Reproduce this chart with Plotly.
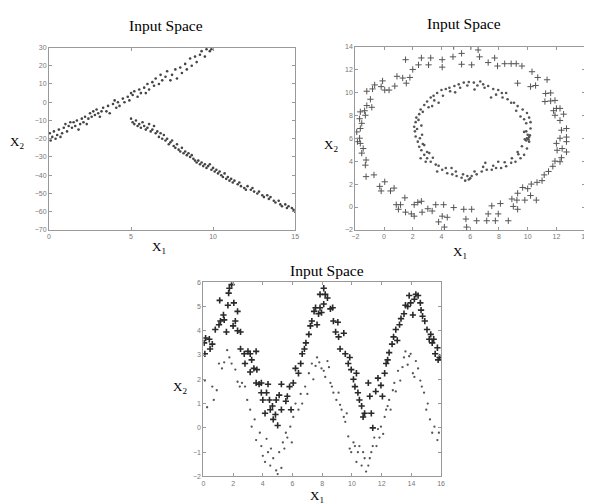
import plotly.graph_objects as go

# ---------- Panel 1: two lines ----------
p1_up_x = [0.05,0.1,0.2,0.3,0.4,0.5,0.6,0.7,0.8,0.9,1.0,1.1,1.2,1.3,1.4,1.5,1.6,1.7,1.8,1.9,2.0,2.1,2.2,2.3,2.4,2.5,2.6,2.7,2.8,2.9,3.0,3.1,3.2,3.3,3.5,3.6,3.7,3.9,4.0,4.1,4.2,4.3,4.5,4.6,4.8,4.9,5.0,5.1,5.2,5.4,5.5,5.6,5.8,5.9,6.0,6.1,6.3,6.4,6.5,6.7,6.8,6.9,7.1,7.2,7.4,7.5,7.7,7.8,8.0,8.1,8.3,8.4,8.6,8.7,8.9,9.0,9.2,9.3,9.5,9.6,9.8,9.9]
p1_up_y = [-17,-21,-19,-16,-20,-18,-15,-19,-17,-14,-12,-16,-13,-11,-14,-11,-13,-10,-15,-12,-9,-11,-8,-12,-9,-6,-8,-5,-7,-4,-6,-8,-5,-3,-5,-2,-6,-1,1,-3,0,-2,2,0,3,1,5,4,6,3,7,5,8,5,10,7,11,9,13,10,15,12,14,17,12,15,18,13,19,16,21,18,24,20,25,22,26,28,25,29,28,29]
p1_lo_x = [5.0,5.1,5.2,5.3,5.4,5.5,5.6,5.7,5.8,5.9,6.0,6.1,6.2,6.3,6.4,6.5,6.6,6.7,6.8,6.9,7.0,7.1,7.2,7.3,7.4,7.5,7.6,7.7,7.8,7.9,8.0,8.1,8.2,8.3,8.4,8.5,8.6,8.7,8.8,8.9,9.0,9.1,9.2,9.3,9.4,9.5,9.6,9.7,9.8,9.9,10.0,10.1,10.2,10.3,10.4,10.5,10.6,10.7,10.8,10.9,11.0,11.1,11.2,11.3,11.5,11.6,11.7,11.9,12.0,12.1,12.3,12.4,12.5,12.7,12.8,13.0,13.1,13.3,13.4,13.5,13.7,13.8,14.0,14.1,14.2,14.4,14.5,14.6,14.8,14.9,15.0]
p1_lo_y = [-9,-11,-12,-10,-13,-12,-14,-11,-13,-15,-14,-12,-16,-15,-13,-17,-16,-19,-17,-20,-18,-21,-20,-23,-22,-21,-24,-25,-23,-26,-27,-25,-28,-27,-29,-28,-30,-29,-31,-32,-33,-32,-34,-33,-35,-34,-36,-35,-34,-37,-36,-38,-37,-39,-38,-40,-41,-39,-42,-41,-43,-42,-44,-43,-45,-44,-46,-47,-48,-46,-48,-47,-49,-50,-49,-51,-52,-51,-53,-52,-54,-55,-54,-56,-57,-56,-58,-57,-58,-59,-60]

# ---------- Panel 2: two rings ----------
p2_out_x = [4.85,6.05,6.55,5.4,4.8,4.05,3.25,2.6,1.5,2.4,3.1,4.05,5.4,6.1,6.65,7.25,7.7,7.9,8.4,8.85,9.2,9.6,10.3,10.7,11.35,9.3,10.2,10.55,11.25,11.6,11.9,11.6,11.2,12.0,12.25,11.8,12.5,11.9,12.25,12.7,12.35,12.7,12.25,12.0,12.7,12.4,12.05,12.7,12.35,11.9,11.75,12.25,11.45,11.15,11.0,10.65,10.25,10.0,9.65,9.3,10.2,10.6,9.8,9.25,9.0,8.9,8.1,7.5,7.25,7.95,9.3,8.65,7.75,7.15,6.45,5.7,5.75,6.1,5.55,4.85,4.15,3.6,3.05,2.65,3.35,3.8,4.2,4.4,4.05,2.1,1.9,1.5,2.35,2.6,2.1,1.45,1.15,0.85,1.0,0.45,0.7,0.05,-0.2,-0.3,-0.7,-1.25,-1.3,-1.25,-1.55,-1.45,-1.65,-1.7,-1.85,-1.9,-1.65,-1.55,-1.7,-1.3,-1.35,-1.65,-1.2,-0.85,-0.95,-1.2,-0.8,-0.65,-0.1,-0.2,0.35,0.75,0.9,1.3,1.55,1.8,2.0,0.05]
p2_out_y = [14,14,13.7,13.4,13.1,12.85,13,13,12.85,12.4,12.4,12.2,12.45,12.4,13.1,12.6,13,12.3,12.5,12.5,12.5,12.3,11.8,11.3,11.1,10.8,10.5,10.6,9.9,9.95,9.3,9.25,9.2,8.6,8.6,8.4,8.1,8.0,7.55,6.85,6.7,6.1,6.0,5.55,5.7,5.1,4.95,4.8,4.3,4.0,3.55,3.95,3.1,2.8,2.3,2.15,2.0,1.6,1.7,1.2,1.0,0.6,0.6,0.6,0.05,0.7,0.3,0.1,-0.6,-0.6,-0.2,-1.2,-1.2,-1.2,-1.2,-1.05,-1.75,-0.2,-0.2,-0.05,0.2,0.2,-0.15,-0.45,-0.35,-1.3,-1.75,-0.9,-0.8,-0.8,-0.6,-0.45,0.4,0.5,0.2,0.8,0.2,0.2,-0.2,1.4,1.65,2.2,1.4,1.8,2.8,2.65,3.65,4.1,4.7,5.1,5.55,6.0,5.7,6.55,6.85,7.3,7.7,8.0,8.4,8.3,8.85,8.7,9.4,10.1,10.3,10.65,11.0,10.5,10.2,10.55,11.4,11.25,10.8,11.3,12.0,10.2]
p2_in_x = [2.1,2.2,2.25,2.45,2.55,2.8,3.0,3.25,3.45,3.7,4.0,4.3,4.55,4.9,5.2,5.55,5.9,6.25,6.7,6.9,7.25,7.6,7.95,8.2,8.5,8.25,9.05,9.3,9.65,9.95,10.1,10.2,10.2,10.15,9.95,10.1,9.95,9.75,9.5,9.15,8.85,8.5,8.15,7.8,7.5,7.15,6.8,6.45,6.1,5.9,5.65,5.4,5.05,4.75,4.4,4.05,3.7,3.6,3.25,3.0,2.8,2.6,2.45,2.35,2.2,2.15,2.65,2.9,3.8,3.35,4.95,6.3,7.45,8.85,9.75,9.75,9.3,7.95,7.05,4.7,3.15,2.8,2.55,
           2.3,2.4,2.7,3.1,3.5,4.1,4.6,5.3,5.8,6.5,7.0,7.8,8.6,9.2,9.5,9.9,9.9,9.8,9.6,9.35,8.9,8.4,7.6,6.9,6.3,5.5,5.0,4.3,3.8,3.4,3.0,2.7,2.5,2.6,10.1,10.05,9.9,10.0,6.0,5.8]
p2_in_y = [7.0,7.4,7.8,8.1,8.5,8.9,9.2,9.55,9.7,9.95,10.2,10.3,10.4,10.55,10.7,10.85,10.9,10.85,10.95,10.7,10.55,10.3,10.2,9.95,9.95,9.55,9.1,8.8,8.5,8.2,7.8,7.4,6.85,6.25,6.0,5.7,5.1,4.55,4.25,3.95,3.85,3.55,3.4,3.4,3.25,3.25,3.1,2.85,2.7,2.4,2.3,2.55,2.7,2.85,2.95,3.25,3.1,3.7,3.95,4.25,4.55,4.95,5.25,5.7,6.15,6.6,6.3,3.95,9.1,8.8,10.0,10.25,9.55,9.1,7.65,6.55,4.8,3.95,3.85,3.4,4.7,5.4,4.25,
           6.8,7.6,8.3,8.7,9.3,9.7,10.1,10.4,10.6,10.6,10.4,9.8,9.4,8.4,7.9,7.3,6.6,5.9,5.3,4.6,4.25,3.9,3.6,3.5,3.1,2.85,3.1,3.4,3.6,4.3,4.8,5.5,6.0,7.1,6.1,5.9,5.8,6.3,2.5,2.7]

# ---------- Panel 3: two waves ----------
p3_a_x = [0.05,0.15,0.1,0.4,0.6,0.45,0.8,1.05,1.15,1.1,1.4,1.35,1.65,1.55,1.7,1.75,1.9,2.0,2.05,2.15,2.3,2.3,2.5,2.5,2.75,3.0,3.15,2.8,3.15,3.25,3.4,3.55,3.6,3.55,3.75,3.9,3.9,4.0,4.25,4.35,4.45,4.5,4.15,4.65,4.7,4.85,5.0,4.9,5.1,5.25,5.25,5.55,5.65,5.8,5.9,6.05,6.2,6.4,6.55,6.65,6.8,6.9,7.1,7.2,7.3,7.45,7.55,7.65,7.75,7.85,7.95,8.1,7.85,8.1,8.2,8.35,8.55,8.7,8.75,8.9,9.05,9.1,9.2,9.45,9.55,9.75,9.85,9.95,10.1,10.2,10.3,10.4,10.5,10.65,10.75,10.85,11.1,11.2,11.3,11.4,11.6,11.75,11.95,12.05,12.2,12.3,12.4,12.5,12.7,12.8,12.95,13.05,13.2,13.3,13.5,13.6,13.75,13.85,13.95,14.1,14.2,14.3,14.45,14.6,14.65,14.75,14.9,15.05,15.2,15.3,15.4,15.5,15.6,15.75,15.8,15.9]
p3_a_y = [3.5,3.7,3.05,3.65,3.45,3.25,4.05,4.25,4.4,5.25,4.45,4.65,5.05,3.95,5.55,5.75,5.9,4.2,5.15,4.4,4.8,4.0,3.95,3.25,3.05,3.15,3.05,2.65,2.3,2.8,2.45,3.15,2.4,1.85,1.8,1.85,1.45,1.15,1.45,1.8,1.15,0.75,0.6,0.9,0.35,0.55,0.1,1.15,1.35,1.8,0.75,1.1,1.3,1.7,0.75,1.85,2.45,2.25,2.65,3.05,3.25,3.5,3.85,4.2,4.4,4.8,4.95,4.25,4.7,4.95,4.75,5.1,5.5,5.75,5.5,5.35,4.9,4.95,4.4,3.95,4.35,3.75,3.25,3.9,3.05,2.65,2.9,2.4,2.0,1.7,2.25,1.45,1.15,0.9,0.45,0.6,1.85,1.3,0.6,0.0,1.5,2.05,1.75,1.3,2.25,2.65,2.8,3.1,3.45,3.75,4.05,3.6,4.25,4.5,4.7,5.05,5.0,5.45,5.15,4.65,5.3,5.5,5.45,5.15,4.85,4.6,4.4,4.05,3.65,3.85,3.5,3.65,3.05,3.3,2.8,2.9]
p3_b_x = [0.1,0.25,0.6,0.7,0.9,1.05,1.25,1.4,1.6,1.75,1.9,2.15,2.3,2.45,2.6,2.8,2.95,3.15,3.25,3.45,3.55,3.8,3.9,4.0,4.15,4.25,4.35,4.5,4.55,4.7,4.9,5.0,5.1,5.25,5.35,5.45,5.55,5.65,5.85,5.95,6.05,6.2,6.4,6.55,6.65,6.85,7.0,7.1,7.3,7.4,7.55,7.65,7.8,7.95,8.1,8.2,8.35,8.45,8.55,8.65,8.75,8.95,9.1,9.2,9.3,9.45,9.55,9.65,9.75,9.85,9.95,10.1,10.2,10.3,10.4,10.5,10.65,10.75,10.85,10.95,11.1,11.2,11.3,11.4,11.5,11.65,11.75,11.85,11.95,12.1,12.2,12.3,12.4,12.5,12.6,12.75,12.85,12.95,13.1,13.25,13.4,13.5,13.6,13.75,13.85,13.95,14.1,14.2,14.3,14.45,14.6,14.7,14.85,15.0,15.1,15.25,15.4,15.55,15.75,15.85]
p3_b_y = [1.95,0.85,1.7,1.15,1.55,2.65,2.45,2.7,3.2,2.9,2.65,2.4,1.9,1.7,1.85,1.7,1.15,0.75,0.05,0.35,-0.5,-0.2,-0.75,-1.15,-1.4,-0.45,-1.0,-1.55,-0.85,-1.25,-1.75,-1.9,-1.0,-1.65,-0.6,-0.85,-0.2,-0.4,0.05,-0.6,0.45,1.0,0.75,1.4,1.0,1.7,1.4,2.25,2.65,2.0,2.55,2.9,2.7,2.45,2.35,2.1,2.75,2.5,1.85,1.7,1.45,1.15,1.45,0.95,0.75,0.45,0.25,0.6,-0.35,-0.85,-1.0,-0.6,-0.75,-1.4,-1.0,-0.75,-1.55,-1.0,-1.25,-1.8,-1.55,-1.25,-1.0,-0.75,-0.4,-0.75,-0.05,-0.4,0.05,-0.25,0.45,0.75,0.9,1.15,0.75,1.55,1.85,1.5,2.35,1.95,2.5,2.9,3.15,2.6,2.95,3.05,2.25,2.1,2.75,2.45,1.95,1.7,1.45,0.75,1.0,0.35,-0.2,0.05,-0.5,-0.2]

panel_titles = ["Input Space", "Input Space", "Input Space"]
x_label = "X<sub>1</sub>"
y_label = "X<sub>2</sub>"

dot = dict(color="#444", size=2.6)
plus = dict(symbol="cross-thin", size=4.5, color="#555", line=dict(width=1, color="#555"))
plus_bold = dict(symbol="cross-thin", size=4.5, color="#2a2a2a", line=dict(width=1.6, color="#2a2a2a"))
small_dot = dict(color="#555", size=2.3)
ring_dot = dict(color="#555", size=2.6)

fig = go.Figure()
fig.add_trace(go.Scatter(x=p1_up_x, y=p1_up_y, mode="markers", marker=dot, xaxis="x", yaxis="y"))
fig.add_trace(go.Scatter(x=p1_lo_x, y=p1_lo_y, mode="markers", marker=dot, xaxis="x", yaxis="y"))
fig.add_trace(go.Scatter(x=p2_out_x, y=p2_out_y, mode="markers", marker=plus, xaxis="x2", yaxis="y2"))
fig.add_trace(go.Scatter(x=p2_in_x, y=p2_in_y, mode="markers", marker=ring_dot, xaxis="x2", yaxis="y2"))
fig.add_trace(go.Scatter(x=p3_a_x, y=p3_a_y, mode="markers", marker=plus_bold, xaxis="x3", yaxis="y3"))
fig.add_trace(go.Scatter(x=p3_b_x, y=p3_b_y, mode="markers", marker=small_dot, xaxis="x3", yaxis="y3"))

W, H = 592, 504
OFF = 8  # page body margin: figure starts 8px in from the window corner
def px(v): return (v - OFF) / W
def py(v): return 1 - (v - OFF) / H

ax_common = dict(showgrid=False, zeroline=False, showline=True, linecolor="#999", linewidth=1,
                 mirror="ticks", ticks="inside", ticklen=3, tickcolor="#999",
                 tickfont=dict(family="Arial, Liberation Sans", size=7, color="#777"))

panels = [
    dict(x0=45.5, x1=295, y0=44, y1=229, xr=[0, 15], xd=5, yr=[-70, 30], yd=10),
    dict(x0=356, x1=589, y0=43, y1=229, xr=[-2, 14], xd=2, yr=[-2, 14], yd=2),
    dict(x0=202, x1=443, y0=282, y1=479, xr=[0, 16], xd=2, yr=[-2, 6], yd=1),
]
title_pos = [(164.5, 21.5), (466, 19.5), (327, 270.5)]
xlab_pos = [(157.5, 247), (462, 252), (317, 499)]
ylab_pos = [(13, 140), (331, 143), (178, 389)]

layout = dict(width=W, height=H, margin=dict(l=0, r=0, t=0, b=0), showlegend=False,
              plot_bgcolor="white", paper_bgcolor="white")
annotations = []
serif = dict(family="Liberation Serif", size=13, color="black")
for i, p in enumerate(panels):
    sx = "" if i == 0 else str(i + 1)
    layout["xaxis" + sx] = dict(ax_common, domain=[px(p["x0"]), px(p["x1"])], range=p["xr"], dtick=p["xd"],
                                anchor="y" + sx, tick0=p["xr"][0])
    layout["yaxis" + sx] = dict(ax_common, domain=[py(p["y1"]), py(p["y0"])], range=p["yr"], dtick=p["yd"],
                                anchor="x" + sx, tick0=p["yr"][0])
    annotations.append(dict(text=panel_titles[i], x=px(title_pos[i][0]), y=py(title_pos[i][1]),
                            xref="paper", yref="paper", xanchor="center", yanchor="middle", showarrow=False,
                            font=dict(family="Liberation Serif", size=15.5, color="black")))
    annotations.append(dict(text=x_label, x=px(xlab_pos[i][0]), y=py(xlab_pos[i][1]), xref="paper", yref="paper",
                            xanchor="center", yanchor="middle", showarrow=False, font=serif))
    annotations.append(dict(text=y_label, x=px(ylab_pos[i][0]), y=py(ylab_pos[i][1]), xref="paper", yref="paper",
                            xanchor="center", yanchor="middle", showarrow=False, font=serif))
layout["annotations"] = annotations

fig.update_layout(**layout)
fig.write_html("out.html")
